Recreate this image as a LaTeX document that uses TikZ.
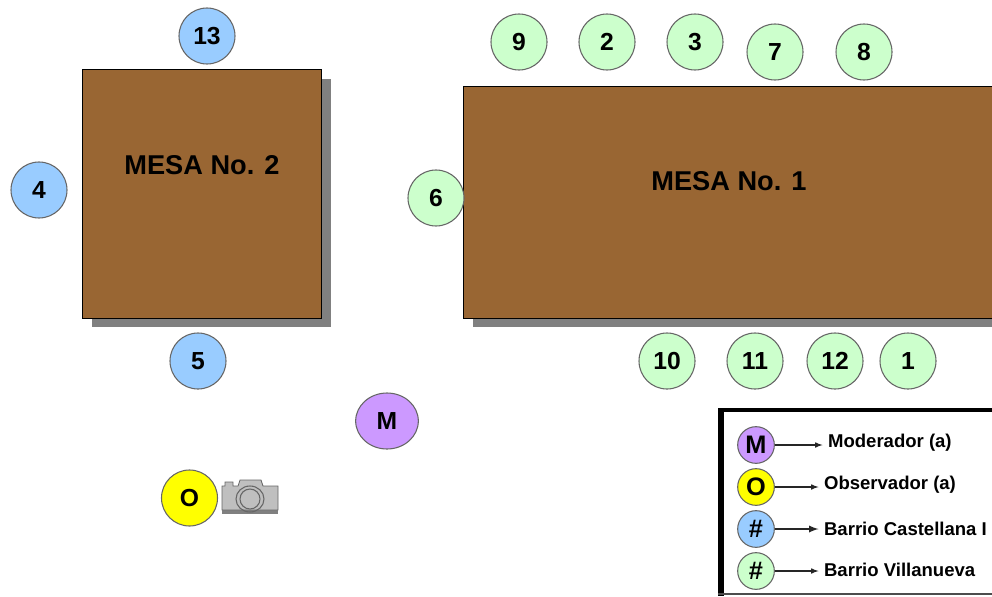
\documentclass[tikz,border=0pt]{standalone}
\usepackage{fontspec}
\setmainfont{Liberation Sans}
\usepackage{tikz}
\usetikzlibrary{positioning,shapes,shadows,arrows}
\usepackage{xcolor}
\definecolor{mesabrown}{HTML}{996633}
\definecolor{bluechair}{HTML}{99CCFF}
\definecolor{greenchair}{HTML}{CCFFCC}
\definecolor{purplechair}{HTML}{CC99FF}
\definecolor{yellowchair}{HTML}{FFFF00}
\tikzstyle{mesa}=[rectangle, draw=black, line width=0.7pt, fill=mesabrown, anchor=north west, inner sep=0pt,
drop shadow={shadow xshift=6.8pt, shadow yshift=-6.8pt, fill=black!50, opacity=1}]
\tikzstyle{chair}=[circle, draw=black!60, line width=0.8pt, minimum size=42pt, inner sep=0pt, text=black, font=\fontsize{18.5}{20}\selectfont\bfseries]
\tikzstyle{small}=[chair, minimum size=27.5pt, font=\fontsize{19}{20}\selectfont\bfseries]
\tikzstyle{mesatext}=[font=\fontsize{20.4}{23}\selectfont\bfseries, inner sep=0pt]
\tikzstyle{legendtext}=[font=\fontsize{13.9}{16}\selectfont\bfseries, anchor=west, inner sep=4pt]
\tikzstyle{legendarrow}=[-latex, line width=0.9pt, black!85]

\begin{document}
\begin{tikzpicture}[x=0.75pt,y=-0.75pt]
            \clip (0,0) rectangle (992,596);
            \useasboundingbox (0,0) rectangle (992,596);
            % mesas
            \node (mesa2)[mesa, minimum width=179.5pt, minimum height=186.5pt] at (82,69) {};
            \node (mesa1)[mesa, minimum width=400pt, minimum height=173.7pt] at (463,86) {};
            \node (textmesa2)[mesatext] at (202,165) {MESA No. 2};
            \node (textmesa1)[mesatext] at (729,181) {MESA No. 1};
            % mesa 2
            \node (13)[chair, fill=bluechair] at (207,36) {13};
            \node (4)[chair, fill=bluechair] at (39,190) {4};
            \node (5)[chair, fill=bluechair] at (198,361) {5};
            % mesa 1
            \node (6)[chair, fill=greenchair] at (436,198) {6};
            \node (9)[chair, fill=greenchair] at (519,42) {9};
            \node (2)[chair, fill=greenchair] at (607,42) {2};
            \node (3)[chair, fill=greenchair] at (695,42) {3};
            \node (7)[chair, fill=greenchair] at (775,52) {7};
            \node (8)[chair, fill=greenchair] at (864,52) {8};
            \node (10)[chair, fill=greenchair] at (667,361) {10};
            \node (11)[chair, fill=greenchair] at (755,361) {11};
            \node (12)[chair, fill=greenchair] at (835,361) {12};
            \node (1)[chair, fill=greenchair] at (908,361) {1};
            % moderador y observador
            \node (M)[chair, fill=purplechair, ellipse, minimum width=47pt, minimum height=42pt] at (387,421) {M};
            \node (O)[chair, fill=yellowchair] at (189.5,498) {O};
            % camara
            \fill[black!50] (222,507) rectangle (278,514);
            \draw[black!60, fill=black!25, line width=0.6pt] (222,486) -- (225,486) -- (225,482) -- (233,482) -- (233,486) -- (238,486)
                -- (240,480) -- (261,480) -- (263,486) -- (278,486) -- (278,510) -- (222,510) -- cycle;
            \draw[black!60, line width=0.8pt] (250,499) ellipse (14 and 13);
            \draw[black!60, line width=0.8pt] (250,499) ellipse (10 and 10);
            % leyenda
            \fill[black] (718,408) rectangle (992,412);
            \fill[black] (718,408) rectangle (724,596);
            \fill[black!70] (718,593) rectangle (992,595);
            \node (lm)[small, fill=purplechair] at (756,445) {M};
            \node (lo)[small, fill=yellowchair] at (756,487) {O};
            \node (lb)[small, fill=bluechair] at (756,529) {\#};
            \node (lv)[small, fill=greenchair] at (756,571) {\#};
            \node (tm)[legendtext] at (822.5,443) {Moderador (a)};
            \node (to)[legendtext] at (818.5,485) {Observador (a)};
            \node (tb)[legendtext] at (818.5,529) {Barrio Castellana I};
            \node (tv)[legendtext] at (818.5,570) {Barrio Villanueva};
            \draw [legendarrow] (lm) -- (lm -| tm.west);
            \draw [legendarrow] (lo) -- (lo -| to.west);
            \draw [legendarrow, line width=1.4pt] (lb) -- (lb -| tb.west);
            \draw [legendarrow] (lv) -- (lv -| tv.west);
        \end{tikzpicture}
\end{document}
